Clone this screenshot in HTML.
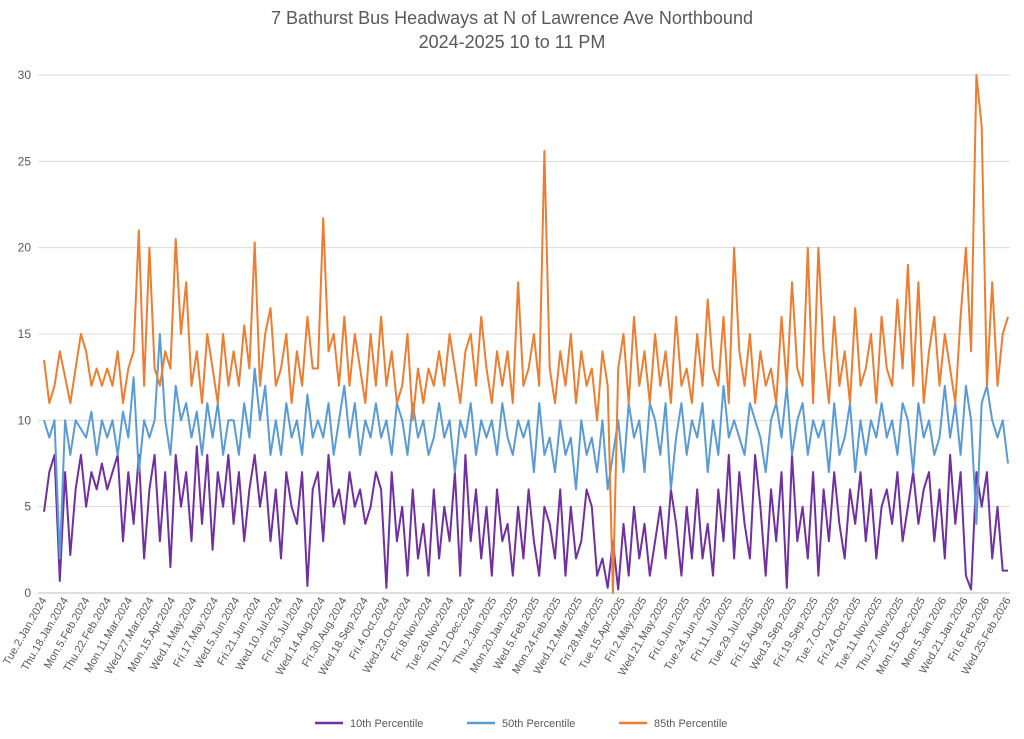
<!DOCTYPE html>
<html><head><meta charset="utf-8"><style>
body{margin:0;background:#fff;}
svg{display:block;font-family:"Liberation Sans",sans-serif;}
</style></head><body>
<svg id="chart" width="1024" height="739">
<text x="512" y="24" text-anchor="middle" font-size="18" fill="#595959">7 Bathurst Bus Headways at N of Lawrence Ave Northbound</text>
<text x="512" y="48" text-anchor="middle" font-size="18" fill="#595959">2024-2025 10 to 11 PM</text>
<g id="grid"></g><g id="series"></g><g id="xlabels"></g>
<g>
<g><line x1="315" y1="723" x2="343" y2="723" stroke="#7030a0" stroke-width="2.5"/><text x="350" y="727" font-size="11" fill="#595959">10th Percentile</text></g>
<g><line x1="467" y1="723" x2="495" y2="723" stroke="#5b9bd5" stroke-width="2.5"/><text x="502" y="727" font-size="11" fill="#595959">50th Percentile</text></g>
<g><line x1="619" y1="723" x2="647" y2="723" stroke="#ed7d31" stroke-width="2.5"/><text x="654" y="727" font-size="11" fill="#595959">85th Percentile</text></g>
</g>
</svg>
<script>
const labels=["Tue.2.Jan.2024","Thu.18.Jan.2024","Mon.5.Feb.2024","Thu.22.Feb.2024","Mon.11.Mar.2024","Wed.27.Mar.2024","Mon.15.Apr.2024","Wed.1.May.2024","Fri.17.May.2024","Wed.5.Jun.2024","Fri.21.Jun.2024","Wed.10.Jul.2024","Fri.26.Jul.2024","Wed.14.Aug.2024","Fri.30.Aug.2024","Wed.18.Sep.2024","Fri.4.Oct.2024","Wed.23.Oct.2024","Fri.8.Nov.2024","Tue.26.Nov.2024","Thu.12.Dec.2024","Thu.2.Jan.2025","Mon.20.Jan.2025","Wed.5.Feb.2025","Mon.24.Feb.2025","Wed.12.Mar.2025","Fri.28.Mar.2025","Tue.15.Apr.2025","Fri.2.May.2025","Wed.21.May.2025","Fri.6.Jun.2025","Tue.24.Jun.2025","Fri.11.Jul.2025","Tue.29.Jul.2025","Fri.15.Aug.2025","Wed.3.Sep.2025","Fri.19.Sep.2025","Tue.7.Oct.2025","Fri.24.Oct.2025","Tue.11.Nov.2025","Thu.27.Nov.2025","Mon.15.Dec.2025","Mon.5.Jan.2026","Wed.21.Jan.2026","Fri.6.Feb.2026","Wed.25.Feb.2026"];
const yTicks=[0,5,10,15,20,25,30];
const p85=[13.5,11,12,14,12.5,11,13,15,14,12,13,12,13,12,14,11,13,14,21,12,20,13,12,14,13,20.5,15,18,12,14,11,15,13,11,15,12,14,12,15.5,13,20.3,12,15,16.5,12,13,15,11,14,12,16,13,13,21.7,14,15,12,16,12,15,13,11,15,12,16,12,14,11,12,15,10,13,11,13,12,14,12,15,13,11,14,15,12,16,13,11,14,12,14,11,18,12,13,15,12,25.6,13,11,14,12,15,11,14,12,13,10,14,12,0,13,15,11,16,12,14,11,15,12,14,11,16,12,13,11,15,12,17,13,12,16,11,20,14,12,15,11,14,12,13,11,16,12,18,13,12,20,11,20,14,11,16,12,14,11,16.5,12,13,15,11,16,13,12,17,13,19,12,18,11,14,16,12,15,13,11,16,20,14,30,27,12,18,12,15,16];
const p50=[10,9,10,2,10,8,10,9.5,9,10.5,8,10,9,10,8,10.5,9,12.5,7,10,9,10,15,10,8,12,10,11,9,10.5,8,11,9,11,8,10,10,8,11,9,13,10,12,8,10,8,11,9,10,8,11.5,9,10,9,11,8,10,12,9,11,8,10,9,11,9,10,8,11,10,8,11,9,10,8,9,11,9,10,7,10,9,11,8,10,9,10,8,11,9,8,10,9,10,7,11,8,9,7,10,8,9,6,10,8,9,7,10,6,8,10,7,11,9,10,7,11,10,8,11,6,9,11,8,10,9,11,7,10,8,12,9,10,9,8,11,10,9,7,10,11,9,12,8,10,11,8,10,9,10,7,11,8,9,11,7,10,8,10,9,11,9,10,8,11,10,7,11,9,10,8,9,12,9,11,8,12,10,4,11,12,10,9,10,7.5];
const p10=[4.7,7,8,0.7,7,2.2,6,8,5,7,6,7.5,6,7,8,3,7,4,8,2,6,8,3,7,1.5,8,5,7,3,8.5,4,8,2.5,7,5,8,4,7,3,6,8,5,7,3,6,2,7,5,4,7,0.4,6,7,3,8,5,6,4,7,5,6,4,5,7,6,0.3,7,3,5,1,6,2,4,1,6,2,5,3,7,1,8,3,6,2,5,1,6,3,4,1,5,2,6,3,1,5,4,2,6,1,5,2,3,6,5,1,2,0.3,3,0.2,4,1,5,2,4,1,3,5,2,6,4,1,5,2,6,2,4,1,6,3,8,2,7,4,2,8,5,1,6,3,7,0.3,8,3,5,2,7,1,6,3,7,4,2,6,4,7,3,6,2,5,6,4,7,3,5,7,4,6,7,3,6,2,8,4,7,1,0.2,7,5,7,2,5,1.3,1.3];
const X0=44,X1=1008,Y0=593,Y30=75;
const n=p85.length;
function xs(i){return X0+(X1-X0)*i/(n-1);}
function ys(v){return Y0-(Y0-Y30)*v/30;}
const NS="http://www.w3.org/2000/svg";
const grid=document.getElementById('grid');
yTicks.forEach(t=>{
  const l=document.createElementNS(NS,'line');
  l.setAttribute('x1',38);l.setAttribute('x2',1010);l.setAttribute('y1',ys(t));l.setAttribute('y2',ys(t));
  l.setAttribute('stroke',t===0?'#bfbfbf':'#d9d9d9');l.setAttribute('stroke-width',1);
  
  
  grid.appendChild(l);
  const tx=document.createElementNS(NS,'text');
  tx.setAttribute('x',31);tx.setAttribute('y',ys(t)+4);tx.setAttribute('text-anchor','end');
  tx.setAttribute('font-size','12');tx.setAttribute('fill','#595959');tx.textContent=t;
  
  
  grid.appendChild(tx);
});
const xl=document.getElementById('xlabels');
labels.forEach((lab,k)=>{
  const i=k*(n-1)/(labels.length-1);
  const x=xs(i);
  const tx=document.createElementNS(NS,'text');
  tx.setAttribute('transform','translate('+(x+3)+',600) rotate(-60)');
  tx.setAttribute('text-anchor','end');tx.setAttribute('font-size','11');tx.setAttribute('fill','#595959');
  tx.textContent=lab;
  
  
  xl.appendChild(tx);
});
const sg=document.getElementById('series');
[[p10,'#7030a0','line-10th-percentile'],[p50,'#5b9bd5','line-50th-percentile'],[p85,'#ed7d31','line-85th-percentile']].forEach(([arr,c,nm])=>{
  const p=document.createElementNS(NS,'polyline');
  p.setAttribute('points',arr.map((v,i)=>xs(i).toFixed(1)+','+ys(v).toFixed(1)).join(' '));
  p.setAttribute('fill','none');p.setAttribute('stroke',c);p.setAttribute('stroke-width','2');p.setAttribute('stroke-linejoin','round');
  
  
  sg.appendChild(p);
});
</script>
</body></html>
